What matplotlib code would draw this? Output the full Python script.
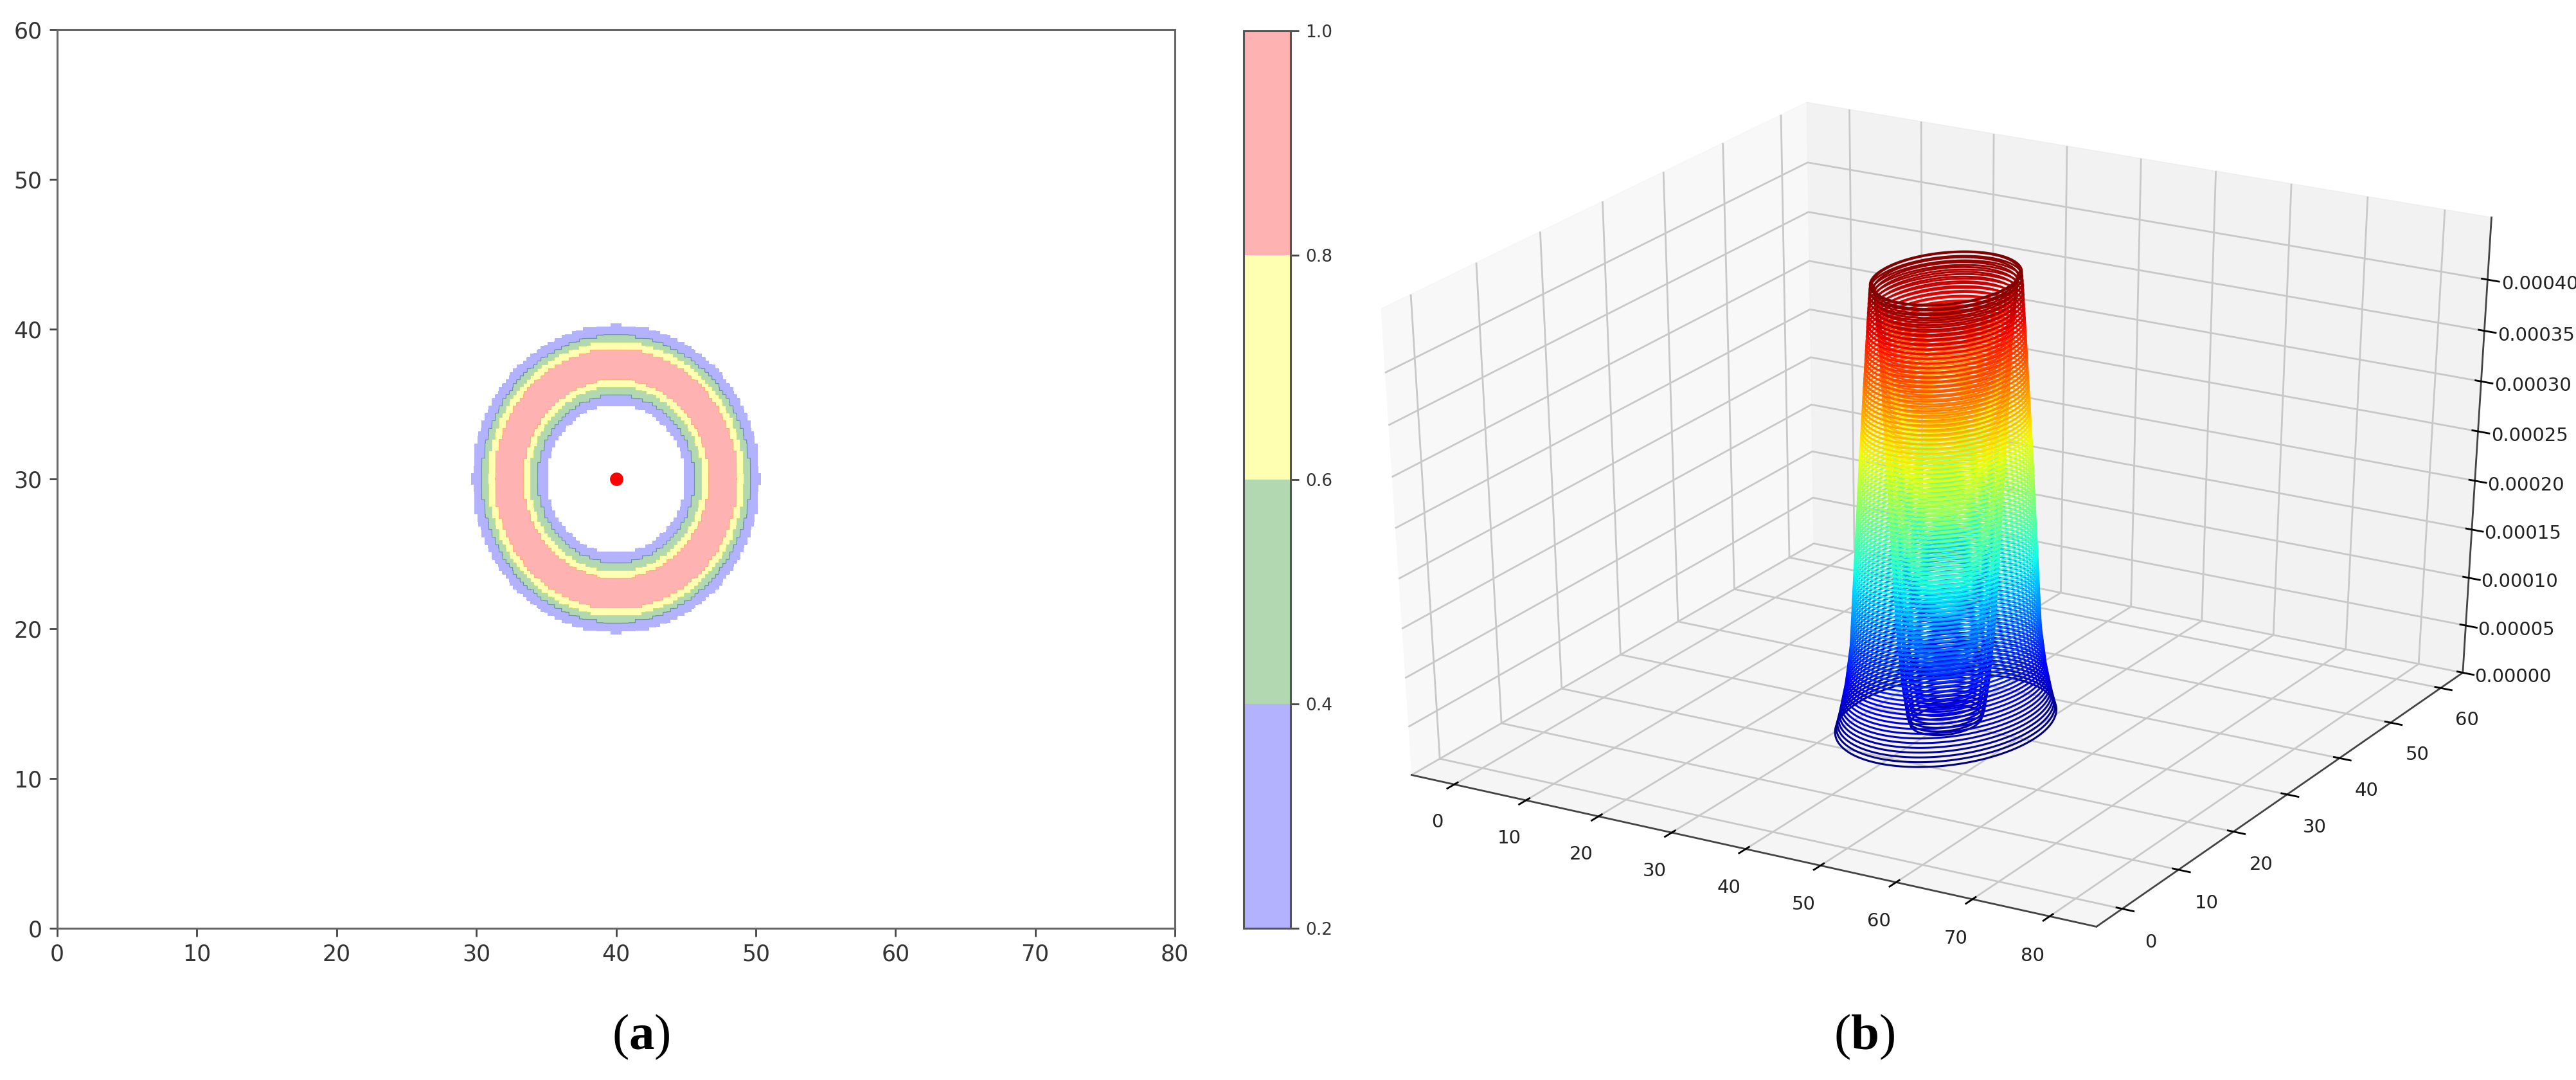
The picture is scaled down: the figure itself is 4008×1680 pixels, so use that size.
#!/usr/bin/env python3
"""Ring field: filled contour (a) and 3D contour lines (b)."""

import numpy as np
import matplotlib
matplotlib.use('Agg')
import matplotlib.pyplot as plt

W, H = 4008, 1680
DPI = 100

# (a) ring profile: radius from the centre -> level
ring_radius = [0.0, 4.5, 4.95, 5.6, 6.17, 6.63, 7.5, 8.68, 9.17, 9.6, 10.26, 10.7]
ring_value = [0.0, 0.05, 0.2, 0.4, 0.6, 0.8, 1.0, 0.8, 0.6, 0.4, 0.2, 0.0]
levels_a = [0.2, 0.4, 0.6, 0.8, 1.0]
colors_a = ['blue', 'green', 'yellow', 'red']
center = (40, 30)

# (b) ridge profile: radius -> height
ridge_radius = [0.0, 3.8, 4.2, 4.7, 5.3, 6.0, 6.9, 7.5, 7.85, 8.0, 9.1, 10.3, 10.9, 11.6, 12.0, 12.2, 14.0]
ridge_height = [0.0, 0.0, 0.00001, 0.00004, 0.0001, 0.00022, 0.00038, 0.00044, 0.00045, 0.000434,
                0.00028, 0.00009, 0.00005, 0.00002, 0.000006, 0.0, 0.0]

x_ticks = list(range(0, 90, 10))
y_ticks = list(range(0, 70, 10))
z_ticks = [0.0, 0.00005, 0.0001, 0.00015, 0.0002, 0.00025, 0.0003, 0.00035, 0.0004]


def rect(x0, y0, x1, y1):
    """Pixel box (y down) to figure fractions."""
    return [x0 / W, 1 - y1 / H, (x1 - x0) / W, (y1 - y0) / H]


plt.rcParams['mathtext.fontset'] = 'custom'
plt.rcParams['mathtext.rm'] = 'Liberation Serif'
plt.rcParams['mathtext.bf'] = 'Liberation Serif:bold'

fig = plt.figure(figsize=(W / DPI, H / DPI), dpi=DPI)

# panel b goes first so the colorbar stays on top of its empty margin
ax3 = fig.add_axes(rect(1966, 100, 4034, 1490), projection='3d')
ax3.patch.set_visible(False)
# old-style 3D axes: the cube stretches with the axes box instead of staying square
ax3.apply_aspect = lambda position=None: None
ax3.set_box_aspect((1, 1, 1), zoom=1.0)
xs3 = np.arange(0, 80.01, 0.1)
ys3 = np.arange(0, 60.01, 0.1)
X3, Y3 = np.meshgrid(xs3, ys3)
Z3 = np.interp(np.hypot(X3 - center[0], Y3 - center[1]), ridge_radius, ridge_height)
ax3.contour3D(X3, Y3, Z3, levels=np.linspace(3e-6, 4.45e-4, 100), cmap='jet', linewidths=2.2)
ax3.set_xlim(-6, 86)
ax3.set_ylim(-4.5, 64.5)
ax3.set_zlim(0, 0.00046)
ax3.set_xticks(x_ticks)
ax3.set_yticks(y_ticks)
ax3.set_zticks(z_ticks)
ax3.set_zticklabels(['%.5f' % v for v in z_ticks])
ax3.tick_params(labelsize=21, labelcolor='#222222')
ax3.tick_params(axis='x', pad=19)
ax3.tick_params(axis='y', pad=18)
ax3.tick_params(axis='z', pad=24)
for axis in (ax3.xaxis, ax3.yaxis, ax3.zaxis):
    axis._axinfo['grid'].update(color='#c8c8c8', linewidth=2)
    axis._axinfo['tick'].update(linewidth={True: 2, False: 2})
    axis.line.set_color('#444444')
    axis.line.set_linewidth(2)

# panel a
ax = fig.add_axes(rect(89, 46, 1828, 1444))
xs = np.arange(0, 80.01, 0.05)
ys = np.arange(0, 60.01, 0.05)
X, Y = np.meshgrid(xs, ys)
# the source field sits on a coarser grid, which gives the ring edges their steps
R = np.hypot(np.round(X / 0.25) * 0.25 - center[0], np.round(Y / 0.25) * 0.25 - center[1])
field = np.interp(R, ring_radius, ring_value)
cs = ax.contourf(X, Y, field, levels=levels_a, colors=colors_a, alpha=0.3)
# overlap of the translucent bands shows as a darker seam
ax.contour(X, Y, field, levels=[0.4, 0.8], colors=['#4f7f86', '#ffb070'], linewidths=1.0, alpha=0.35)
ax.plot([center[0]], [center[1]], 'o', color='red', markersize=15, markeredgewidth=0)
ax.set_xlim(0, 80)
ax.set_ylim(0, 60)
ax.tick_params(labelsize=25, length=9, width=2, color='#444444', labelcolor='#333333', pad=8)
for s in ax.spines.values():
    s.set_linewidth(2.2)
    s.set_color('#666666')

cax = fig.add_axes(rect(1935, 48, 2008, 1444))
cb = fig.colorbar(cs, cax=cax)
cb.set_ticks(levels_a)
cb.ax.tick_params(labelsize=19, length=9, width=2, color='#444444', labelcolor='#333333', pad=8)
cb.outline.set_linewidth(2.2)
cb.outline.set_edgecolor('#555555')

fig.text(997 / W, 1 - 1613 / H, r'($\mathbf{a}$)', family='Liberation Serif', fontsize=57,
         ha='center', va='center', color='black')
fig.text(2901 / W, 1 - 1613 / H, r'($\mathbf{b}$)', family='Liberation Serif', fontsize=57,
         ha='center', va='center', color='black')

fig.savefig('out.png', dpi=DPI)
